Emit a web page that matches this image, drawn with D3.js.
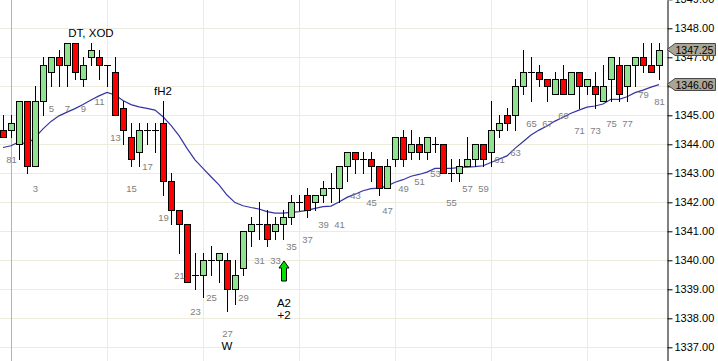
<!DOCTYPE html>
<html>
<head>
<meta charset="utf-8">
<script src="https://cdn.jsdelivr.net/npm/d3@7"></script>
<style>
body { margin: 0; background: #fff; }
svg { display: block; }
text { font-family: "Liberation Sans", Arial, sans-serif; }
</style>
</head>
<body>
<div class="chart"></div>
<script>
// bar numbers (two bars from the previous session, then 1..81)
const barNum = [80, 81,
	1, 2, 3, 4, 5, 6, 7, 8, 9, 10, 11, 12, 13, 14, 15, 16, 17, 18, 19, 20,
	21, 22, 23, 24, 25, 26, 27, 28, 29, 30, 31, 32, 33, 34, 35, 36, 37, 38, 39, 40,
	41, 42, 43, 44, 45, 46, 47, 48, 49, 50, 51, 52, 53, 54, 55, 56, 57, 58, 59, 60,
	61, 62, 63, 64, 65, 66, 67, 68, 69, 70, 71, 72, 73, 74, 75, 76, 77, 78, 79, 80, 81];

const open = [1344.5, 1344.5,
	1344.0, 1345.5, 1343.25, 1345.5, 1346.5, 1347.0, 1346.75, 1347.5, 1346.25, 1347.0,
	1347.0, 1346.75, 1346.5, 1345.25, 1344.25, 1343.75, 1344.5, 1344.5, 1344.75, 1342.75,
	1341.75, 1341.25, 1339.5, 1339.5, 1340.0, 1340.0, 1340.0, 1339.0, 1339.75, 1341.0,
	1341.25, 1341.25, 1341.0, 1341.25, 1341.5, 1342.0, 1342.25, 1342.0, 1342.25, 1342.5,
	1342.5, 1343.25, 1343.75, 1343.5, 1343.5, 1343.25, 1342.5, 1343.5, 1344.25, 1343.75,
	1344.0, 1343.75, 1344.0, 1344.0, 1343.0, 1343.0, 1343.25, 1343.5, 1344.0, 1343.75,
	1344.5, 1345.0, 1345.0, 1346.0, 1346.5, 1346.5, 1346.25, 1345.75, 1346.25, 1345.75,
	1346.5, 1346.0, 1346.0, 1345.5, 1346.25, 1346.75, 1346.0, 1346.75, 1347.0, 1346.75, 1346.75];

const high = [1345.0, 1345.0,
	1345.5, 1345.5, 1346.0, 1347.0, 1347.0, 1347.25, 1347.5, 1347.5, 1347.0, 1347.5,
	1347.25, 1346.75, 1347.0, 1345.5, 1344.75, 1344.75, 1344.75, 1344.75, 1345.5, 1343.0,
	1341.75, 1341.25, 1340.25, 1340.25, 1340.5, 1340.25, 1340.25, 1340.0, 1341.0, 1341.5,
	1342.0, 1341.75, 1341.5, 1341.75, 1342.25, 1342.25, 1342.5, 1342.25, 1342.75, 1343.0,
	1343.25, 1343.75, 1343.75, 1343.75, 1343.75, 1343.25, 1343.5, 1344.25, 1344.5, 1344.5,
	1344.25, 1344.25, 1344.25, 1344.0, 1343.5, 1343.5, 1344.25, 1344.0, 1344.0, 1345.5,
	1345.0, 1345.25, 1346.25, 1347.25, 1347.0, 1346.75, 1346.25, 1346.5, 1346.75, 1346.5,
	1346.5, 1346.25, 1346.5, 1346.75, 1347.0, 1347.0, 1346.75, 1347.0, 1347.5, 1347.5, 1347.5];

const low = [1344.25, 1344.25,
	1343.5, 1343.0, 1343.25, 1345.0, 1346.0, 1346.0, 1346.0, 1346.25, 1346.0, 1346.75,
	1346.25, 1346.0, 1345.0, 1344.0, 1343.25, 1343.25, 1344.0, 1343.75, 1342.25, 1341.25,
	1340.25, 1339.25, 1339.0, 1338.75, 1339.5, 1339.25, 1338.25, 1338.5, 1339.5, 1340.5,
	1340.75, 1340.5, 1340.75, 1340.75, 1341.25, 1341.75, 1341.5, 1341.75, 1342.0, 1342.0,
	1342.0, 1342.75, 1343.0, 1343.0, 1342.75, 1342.25, 1342.5, 1343.25, 1343.25, 1343.5,
	1343.5, 1343.5, 1343.75, 1343.0, 1342.75, 1342.75, 1343.25, 1343.25, 1343.25, 1343.25,
	1344.25, 1344.5, 1344.5, 1345.75, 1345.5, 1346.0, 1345.5, 1345.75, 1345.75, 1345.75,
	1345.25, 1345.75, 1345.25, 1345.5, 1345.5, 1345.5, 1345.5, 1346.0, 1346.5, 1346.5, 1346.25];

const close = [1344.25, 1344.75,
	1345.5, 1343.25, 1345.5, 1346.75, 1347.0, 1346.75, 1347.5, 1346.5, 1346.75, 1347.25,
	1346.75, 1346.75, 1345.0, 1344.5, 1343.5, 1344.5, 1344.5, 1344.5, 1342.75, 1341.75,
	1341.25, 1339.25, 1339.5, 1340.0, 1340.0, 1340.25, 1339.0, 1339.5, 1341.0, 1341.25,
	1341.25, 1340.75, 1341.25, 1341.5, 1342.0, 1342.0, 1341.75, 1342.25, 1342.5, 1342.5,
	1343.25, 1343.75, 1343.5, 1343.5, 1343.25, 1342.5, 1343.25, 1344.25, 1343.5, 1344.0,
	1343.75, 1344.25, 1344.0, 1343.0, 1343.0, 1343.25, 1343.5, 1344.0, 1343.5, 1344.5,
	1344.75, 1344.75, 1346.0, 1346.5, 1346.5, 1346.25, 1346.0, 1346.25, 1345.75, 1346.5,
	1346.0, 1346.25, 1345.75, 1346.0, 1347.0, 1345.75, 1346.75, 1347.0, 1346.75, 1346.5, 1347.25];

// moving average
const ema = [1343.89, 1343.95,
	1344.08, 1344.01, 1344.23, 1344.53, 1344.79, 1344.98, 1345.11, 1345.23, 1345.37, 1345.53,
	1345.67, 1345.79, 1345.70, 1345.51, 1345.37, 1345.29, 1345.24, 1345.18, 1344.95, 1344.65,
	1344.30, 1343.86, 1343.46, 1343.17, 1342.88, 1342.60, 1342.25, 1341.99, 1341.88, 1341.82,
	1341.77, 1341.68, 1341.63, 1341.63, 1341.65, 1341.68, 1341.72, 1341.79, 1341.85, 1341.87,
	1342.01, 1342.17, 1342.28, 1342.40, 1342.47, 1342.49, 1342.56, 1342.69, 1342.78, 1342.90,
	1342.96, 1343.04, 1343.17, 1343.17, 1343.17, 1343.20, 1343.21, 1343.23, 1343.26, 1343.37,
	1343.49, 1343.60, 1343.86, 1344.09, 1344.32, 1344.49, 1344.63, 1344.80, 1344.93, 1345.07,
	1345.18, 1345.28, 1345.32, 1345.39, 1345.55, 1345.55, 1345.64, 1345.78, 1345.87, 1345.97, 1346.06];

const priceTicks = [1337, 1338, 1339, 1340, 1341, 1342, 1343, 1344, 1345, 1346, 1347, 1348, 1349];
const lastPrice = 1347.25;
const lastEma = 1346.06;

// text notes: index into the bar arrays
const notesAbove = [{i: 11, text: 'DT, XOD'}, {i: 20, text: 'fH2'}];
const notesBelow = [{i: 28, text: 'W'}];
const signalBar = 35;            // green arrow bar (bar 34)
const signalText = ['A2', '+2'];

const width = 718;
const height = 361;
const axisX = 667;

const bars = barNum.map((n, i) => ({n: n, i: i, o: open[i], h: high[i], l: low[i], c: close[i]}));

const svg = d3.select('.chart')
	.append('svg')
	.attr('width', width)
	.attr('height', height);

const x = d3.scaleLinear().domain([0, barNum.length - 1]).range([3, 659]);
const y = d3.scaleLinear().domain([1348 + 28.3 / 29, 1348 - 332.7 / 29]).range([0, height]);

const px = v => Math.round(v) + 0.5;

// grid
svg.append('g')
	.selectAll('line')
	.data(priceTicks)
	.enter()
	.append('line')
	.attr('x1', 0).attr('x2', axisX)
	.attr('y1', d => px(y(d))).attr('y2', d => px(y(d)))
	.attr('stroke', '#ecebdc');

// vertical grid every 12 bars, the first one marks the session start
const vgrid = bars.filter(b => b.i >= 1 && (b.i - 1) % 12 == 0);
svg.append('g')
	.selectAll('line')
	.data(vgrid)
	.enter()
	.append('line')
	.attr('x1', d => px(x(d.i))).attr('x2', d => px(x(d.i)))
	.attr('y1', 0).attr('y2', height)
	.attr('stroke', d => d.i == 1 ? '#b4b4b4' : '#ecebdc');

// moving average
svg.append('path')
	.datum(ema)
	.attr('fill', 'none')
	.attr('stroke', '#3434a4')
	.attr('stroke-width', 1.2)
	.attr('d', d3.line().x((d, i) => x(i)).y(d => y(d)));

// candles
const candle = svg.append('g')
	.selectAll('g')
	.data(bars)
	.enter()
	.append('g');

candle.append('line')
	.attr('x1', d => px(x(d.i))).attr('x2', d => px(x(d.i)))
	.attr('y1', d => Math.round(y(d.h)))
	.attr('y2', d => Math.round(y(d.l)) + 1)
	.attr('stroke', '#000');

candle.filter(d => d.o != d.c)
	.append('rect')
	.attr('x', d => Math.round(x(d.i)) - 2.5)
	.attr('y', d => Math.round(y(Math.max(d.o, d.c))) + 0.5)
	.attr('width', 6)
	.attr('height', d => Math.round(y(Math.min(d.o, d.c))) - Math.round(y(Math.max(d.o, d.c))))
	.attr('fill', d => d.c > d.o ? '#8fe38f' : '#ff0000')
	.attr('stroke', '#000');

candle.filter(d => d.o == d.c)
	.append('line')
	.attr('x1', d => Math.round(x(d.i)) - 3).attr('x2', d => Math.round(x(d.i)) + 4)
	.attr('y1', d => px(y(d.o))).attr('y2', d => px(y(d.o)))
	.attr('stroke', '#000');

// odd bar numbers under the lows (bar 1 carries none)
svg.append('g')
	.selectAll('text')
	.data(bars.filter(b => b.n % 2 == 1 && b.i != 2))
	.enter()
	.append('text')
	.attr('x', d => x(d.i) + 0.5)
	.attr('y', d => y(d.l) + 22.5)
	.attr('dy', '0.35em')
	.attr('text-anchor', 'middle')
	.attr('font-size', '9.5px')
	.attr('fill', '#808080')
	.text(d => d.n);

// notes
svg.append('g')
	.selectAll('text')
	.data(notesAbove)
	.enter()
	.append('text')
	.attr('x', d => x(d.i))
	.attr('y', d => y(high[d.i]) - 10)
	.attr('dy', '0.35em')
	.attr('text-anchor', 'middle')
	.attr('font-size', '11.5px')
	.attr('fill', '#000')
	.text(d => d.text);

svg.append('g')
	.selectAll('text')
	.data(notesBelow)
	.enter()
	.append('text')
	.attr('x', d => x(d.i))
	.attr('y', d => y(low[d.i]) + 35)
	.attr('dy', '0.35em')
	.attr('text-anchor', 'middle')
	.attr('font-size', '11.5px')
	.attr('fill', '#000')
	.text(d => d.text);

// signal arrow
const ax = Math.round(x(signalBar)) + 1;
const at = Math.round(y(low[signalBar])) + 22;
svg.append('path')
	.attr('d', `M${ax},${at} L${ax + 5},${at + 7} L${ax + 2.5},${at + 7} L${ax + 2.5},${at + 20} L${ax - 2.5},${at + 20} L${ax - 2.5},${at + 7} L${ax - 5},${at + 7} Z`)
	.attr('fill', '#00e000')
	.attr('stroke', '#000');

svg.append('g')
	.selectAll('text')
	.data(signalText)
	.enter()
	.append('text')
	.attr('x', ax)
	.attr('y', (d, k) => at + 42 + k * 12)
	.attr('dy', '0.35em')
	.attr('text-anchor', 'middle')
	.attr('font-size', '11.5px')
	.attr('fill', '#000')
	.text(d => d);

// price axis
const axis = svg.append('g')
	.attr('transform', `translate(${axisX + 0.5},0)`)
	.call(d3.axisRight(y).tickValues(priceTicks).tickFormat(d3.format('.2f')).tickSize(5).tickPadding(2).tickSizeOuter(0));
axis.select('.domain').attr('stroke', '#000');
axis.selectAll('.tick line').attr('stroke', '#000');
axis.selectAll('.tick text')
	.attr('font-family', '"Liberation Sans", Arial, sans-serif')
	.attr('font-size', '11px')
	.attr('fill', '#000');

// price tags
[lastPrice, lastEma].forEach(p => {
	const cy = Math.round(y(p)) - 1;
	svg.append('path')
		.attr('d', `M${axisX},${cy + 0.5} L${axisX + 8},${cy - 5.5} L${width - 2.5},${cy - 5.5} L${width - 2.5},${cy + 6.5} L${axisX + 8},${cy + 6.5} Z`)
		.attr('fill', '#a9a696')
		.attr('stroke', '#4a4a4a');
	svg.append('text')
		.attr('x', axisX + 8.5)
		.attr('y', cy + 1)
		.attr('dy', '0.35em')
		.attr('font-size', '10.5px')
		.attr('fill', '#000')
		.text(d3.format('.2f')(p));
});
</script>
</body>
</html>
